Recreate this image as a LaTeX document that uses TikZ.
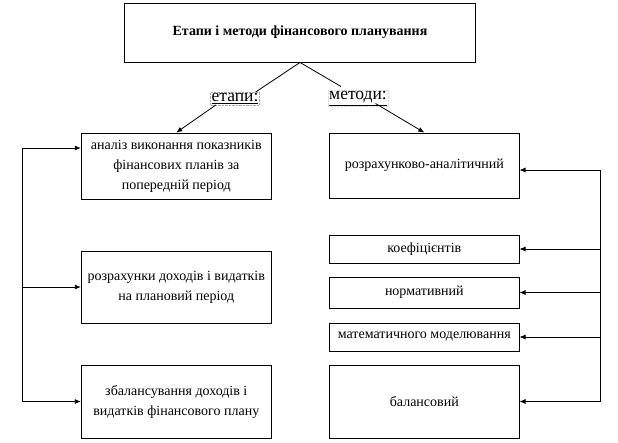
\documentclass[tikz,border=0pt]{standalone}
\usepackage{fontspec}
\setmainfont{Liberation Serif}
\usetikzlibrary{arrows.meta}

\tikzset{
  stagebox/.style={draw,line width=0.9pt,minimum width=190pt,minimum height=66pt,
    align=center,inner sep=1pt,font=\fontsize{14}{20}\selectfont},
  methodbox/.style={draw,line width=0.9pt,minimum width=189.5pt,align=center,
    inner sep=1pt,font=\fontsize{14}{20}\selectfont},
  tag/.style={draw=gray!70,densely dotted,inner sep=1pt,font=\fontsize{17.5}{19}\selectfont},
  link/.style={line width=0.8pt},
}

\begin{document}
\begin{tikzpicture}[x=1pt,y=-1pt,>={Latex[length=6pt,width=5pt]}]
   \useasboundingbox (0,0) rectangle (618,442);
   \node[draw,line width=0.9pt,minimum width=351pt,minimum height=59pt,
     font=\bfseries\fontsize{14}{16}\selectfont] (title) at (300,32.5)
     {Етапи і методи фінансового планування};
   \node[tag] (etapy) at (235,98.5) {\underline{етапи:}};
   \node[tag,draw=gray!30] (metody) at (358,98.5) {\underline{методи:}};

   \node[stagebox] (a1) at (176.3,166) {аналіз виконання показників\\фінансових планів за\\попередній період};
   \node[stagebox,minimum height=72pt] (a2) at (176.3,287) {розрахунки доходів і видатків\\на плановий період};
   \node[stagebox,minimum height=73pt] (a3) at (176.3,401.5) {збалансування доходів і\\видатків фінансового плану};

   \node[methodbox,minimum height=65pt] (m1) at (424.3,165.5) {розрахунково-аналітичний};
   \node[methodbox,minimum height=28pt] (m2) at (424.3,249) {коефіцієнтів};
   \node[methodbox,minimum height=31pt] (m3) at (424.3,292.5) {нормативний};
   \node[methodbox,minimum height=28pt] (m4) at (424.3,337) {математичного моделювання};
   \node[methodbox,minimum height=73pt] (m5) at (424.3,401.5) {балансовий};

   \draw[link] (title.south) -- ([xshift=-4pt]etapy.north east);
   \draw[link] (title.south) -- ([xshift=13pt,yshift=4pt]metody.north west);
   \draw[link,->] ([xshift=5.5pt]etapy.south west) -- (a1.north);
   \draw[link,->] ([xshift=-12.5pt,yshift=3pt]metody.south east) -- (m1.north);

   \coordinate (ltop) at (22,148);
   \coordinate (rtop) at (600,170);
   \draw[link,<->] (a3.west) -| (ltop) -- ([yshift=18pt]a1.west);
   \draw[link,->] (ltop |- a2.west) -- (a2.west);
   \draw[link,<->] (m5.east) -| (rtop) -- ([yshift=-4.5pt]m1.east);
   \draw[link,->] (rtop |- m2.east) -- (m2.east);
   \draw[link,->] (rtop |- m3.east) -- (m3.east);
   \draw[link,->] (rtop |- m4.east) -- (m4.east);
\end{tikzpicture}
\end{document}
